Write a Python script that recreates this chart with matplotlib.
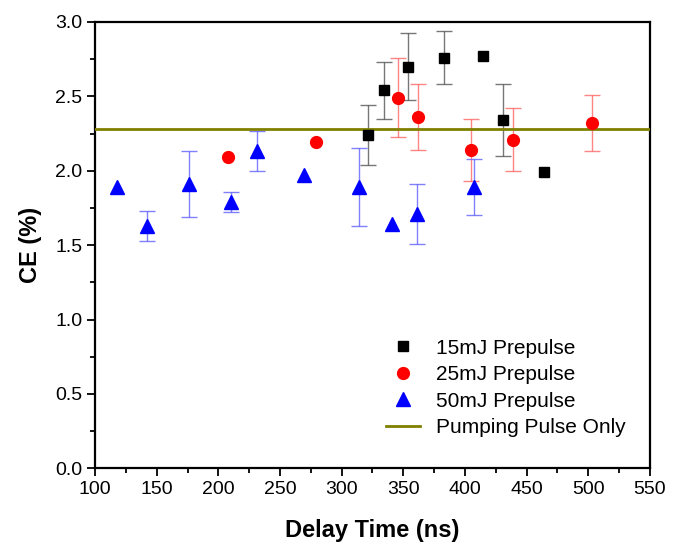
import numpy as np
import matplotlib
matplotlib.use("Agg")
import matplotlib.pyplot as plt
from matplotlib.ticker import MultipleLocator, FormatStrFormatter

plt.rcParams["font.family"] = ["Liberation Sans", "DejaVu Sans"]

# 15mJ prepulse
t15 = [321.5, 334.7, 353.9, 383.0, 415.0, 431.3, 464.0]
ce15 = [2.24, 2.54, 2.70, 2.76, 2.77, 2.34, 1.99]
err15 = [0.20, 0.19, 0.225, 0.18, 0.0, 0.24, 0.0]

# 25mJ prepulse
t25 = [208.0, 279.4, 346.0, 362.2, 405.0, 439.3, 503.0]
ce25 = [2.09, 2.19, 2.49, 2.36, 2.14, 2.21, 2.32]
err25 = [0.0, 0.0, 0.265, 0.22, 0.21, 0.21, 0.19]

# 50mJ prepulse
t50 = [117.5, 142.4, 176.6, 210.6, 231.4, 269.4, 314.5, 340.6, 360.9, 407.3]
ce50 = [1.89, 1.63, 1.91, 1.79, 2.13, 1.97, 1.89, 1.64, 1.71, 1.89]
err50 = [0.0, 0.10, 0.22, 0.07, 0.135, 0.0, 0.26, 0.0, 0.20, 0.19]

pump_only = 2.28

fig = plt.figure(figsize=(6.79, 5.45), dpi=100)
ax = fig.add_axes([0.14, 0.1407, 0.817, 0.819])


def draw_errors(t, ce, err, color):
    # only points that actually have an error bar
    t, ce, err = np.array(t), np.array(ce), np.array(err)
    keep = err > 0
    ax.errorbar(t[keep], ce[keep], yerr=err[keep], fmt="none", ecolor=color,
                elinewidth=1, capsize=5.5, capthick=1, alpha=0.8, zorder=2)


draw_errors(t15, ce15, err15, "#555555")
draw_errors(t25, ce25, err25, "#ff6666")
draw_errors(t50, ce50, err50, "#6060ff")

ax.plot(t15, ce15, "s", color="black", ms=7.5, ls="none", label="15mJ Prepulse", zorder=4)
ax.plot(t25, ce25, "o", color="red", ms=8.5, ls="none", label="25mJ Prepulse", zorder=4)
ax.plot(t50, ce50, "^", color="blue", ms=9.5, ls="none", label="50mJ Prepulse", zorder=4)
ax.axhline(pump_only, color="#808000", lw=2, label="Pumping Pulse Only", zorder=3)

ax.set_xlim(100, 550)
ax.set_ylim(0, 3.0)
ax.xaxis.set_major_locator(MultipleLocator(50))
ax.xaxis.set_minor_locator(MultipleLocator(25))
ax.yaxis.set_major_locator(MultipleLocator(0.5))
ax.yaxis.set_minor_locator(MultipleLocator(0.25))
ax.yaxis.set_major_formatter(FormatStrFormatter("%.1f"))

ax.tick_params(which="major", direction="out", length=6, width=1.3, labelsize=14, pad=3)
ax.tick_params(which="minor", direction="out", length=3.5, width=1.3)
for s in ax.spines.values():
    s.set_linewidth(1.6)

ax.set_xlabel("Delay Time (ns)", fontsize=17, fontweight="bold", labelpad=15)
ax.set_ylabel("CE (%)", fontsize=17, fontweight="bold", labelpad=10)

ax.legend(loc="lower right", bbox_to_anchor=(0.983, 0.037), frameon=False, fontsize=15,
          handlelength=1.65, handletextpad=0.75, labelspacing=0.36, borderpad=0.2)

fig.savefig("out.png", dpi=100)
